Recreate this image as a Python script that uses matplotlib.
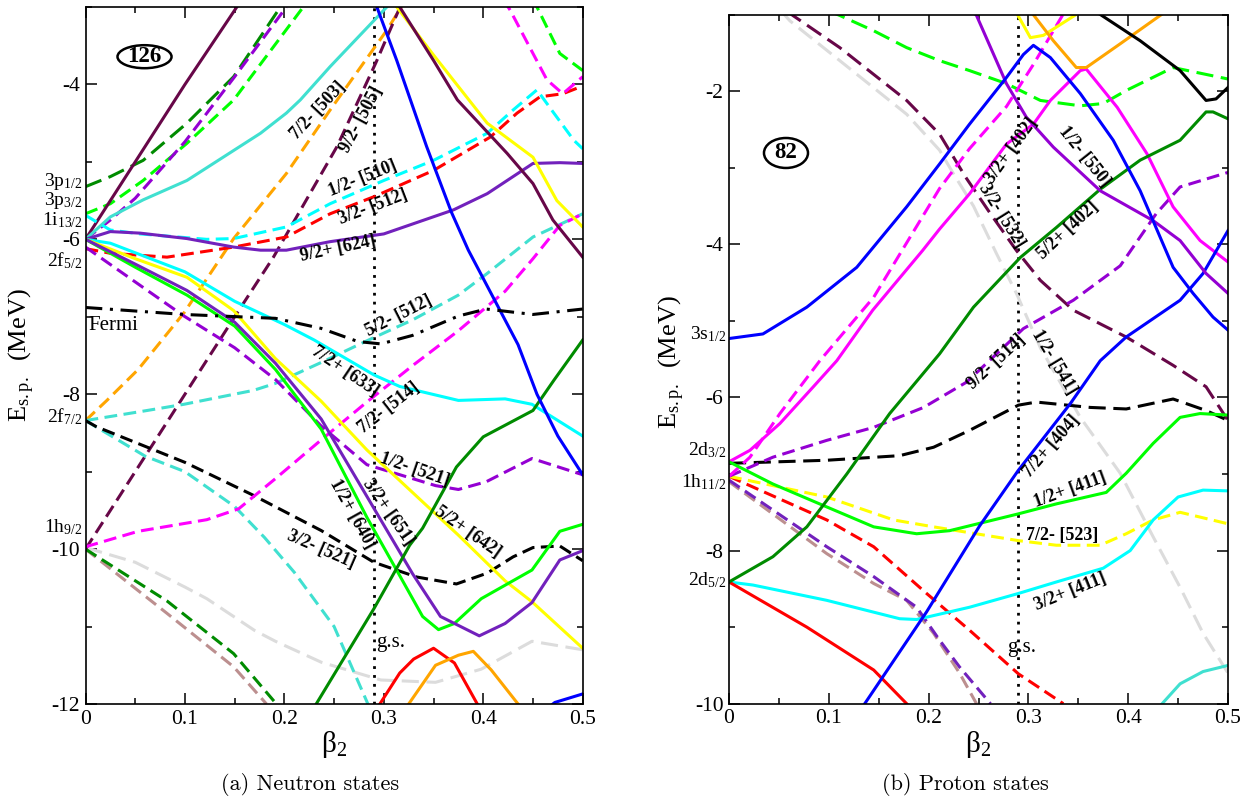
import matplotlib
matplotlib.use("Agg")
import matplotlib.pyplot as plt
from matplotlib.patches import Ellipse
from matplotlib.ticker import MultipleLocator, FuncFormatter

plt.rcParams.update({
    "font.family": ["Liberation Serif", "DejaVu Serif"],
    "mathtext.fontset": "custom",
    "mathtext.rm": "Liberation Serif",
    "mathtext.it": "Liberation Serif:italic",
    "mathtext.bf": "Liberation Serif:bold",
    "axes.unicode_minus": False,
})

# ---------------------------------------------------------------- neutron levels
# each level: (beta_2 values, single-particle energies in MeV)
n_i13_up = ([0.0, 0.05, 0.10, 0.16], [-6.0, -5.0, -4.0, -2.85])
n_p12 = ([0.0, 0.025, 0.058, 0.102, 0.149, 0.196], [-5.32, -5.19, -4.98, -4.5, -3.9, -3.0])
n_p32 = ([0.0, 0.025, 0.058, 0.102, 0.149, 0.219], [-5.67, -5.54, -5.24, -4.76, -4.2, -3.0])
n_f52_up = ([0.0, 0.025, 0.05, 0.10, 0.15, 0.202], [-6.0, -5.75, -5.47, -4.74, -3.9, -3.0])
n_i13_b = ([0.0, 0.025, 0.058, 0.102, 0.176, 0.202, 0.216, 0.246, 0.303],
           [-6.0, -5.71, -5.49, -5.24, -4.63, -4.37, -4.2, -3.77, -3.0])
n_510 = ([0.0, 0.025, 0.055, 0.122, 0.149, 0.202, 0.246, 0.30, 0.35, 0.404, 0.43, 0.454, 0.471, 0.491, 0.5],
         [-5.69, -5.88, -5.93, -6.0, -5.99, -5.84, -5.54, -5.24, -4.98, -4.63, -4.33, -4.07, -4.37, -4.72, -4.83])
n_512_3 = ([0.0, 0.025, 0.082, 0.149, 0.202, 0.246, 0.29, 0.35, 0.407, 0.434, 0.457, 0.48, 0.5],
           [-6.12, -6.18, -6.23, -6.1, -5.97, -5.67, -5.45, -5.11, -4.68, -4.37, -4.16, -4.12, -4.02])
n_624 = ([0.0, 0.025, 0.055, 0.102, 0.149, 0.176, 0.202, 0.246, 0.30, 0.37, 0.404, 0.45, 0.477, 0.5],
         [-6.0, -5.9, -5.92, -5.99, -6.1, -6.14, -6.14, -6.03, -5.93, -5.62, -5.41, -5.02, -5.01, -5.02])
n_633 = ([0.0, 0.025, 0.10, 0.15, 0.20, 0.23, 0.29, 0.316, 0.375, 0.422, 0.449, 0.5],
         [-6.0, -6.05, -6.42, -6.8, -7.1, -7.3, -7.75, -7.9, -8.08, -8.06, -8.13, -8.54])
n_642 = ([0.0, 0.05, 0.102, 0.149, 0.191, 0.237, 0.283, 0.329, 0.375, 0.422, 0.449, 0.5],
         [-6.0, -6.25, -6.49, -6.92, -7.54, -8.09, -8.72, -9.27, -9.82, -10.41, -10.68, -11.28])
n_640 = ([0.0, 0.05, 0.102, 0.15, 0.191, 0.237, 0.283, 0.315, 0.339, 0.355, 0.371, 0.398, 0.449, 0.477, 0.5],
         [-6.0, -6.36, -6.72, -7.12, -7.68, -8.45, -9.59, -10.32, -10.87, -11.04, -10.96, -10.64, -10.27, -9.77, -9.68])
n_651 = ([0.0, 0.05, 0.102, 0.15, 0.191, 0.237, 0.283, 0.329, 0.357, 0.396, 0.422, 0.449, 0.477, 0.5],
         [-6.0, -6.32, -6.66, -7.07, -7.6, -8.32, -9.32, -10.32, -10.87, -11.12, -10.96, -10.69, -10.14, -10.02])
n_521_1 = ([0.0, 0.05, 0.099, 0.15, 0.191, 0.237, 0.283, 0.306, 0.352, 0.375, 0.403, 0.449, 0.5],
           [-6.1, -6.55, -6.99, -7.4, -7.81, -8.41, -8.91, -9.0, -9.18, -9.23, -9.13, -8.83, -9.04])
n_fermi = ([0.0, 0.099, 0.191, 0.237, 0.274, 0.297, 0.329, 0.375, 0.403, 0.45, 0.5],
           [-6.88, -6.97, -7.02, -7.15, -7.32, -7.35, -7.24, -6.99, -6.9, -6.97, -6.9])
n_503 = ([0.0, 0.0215, 0.053, 0.099, 0.149, 0.202, 0.246, 0.303, 0.32],
         [-8.34, -8.08, -7.68, -6.95, -5.99, -5.15, -4.33, -3.3, -2.95])
n_505 = ([0.0, 0.05, 0.10, 0.15, 0.189, 0.253, 0.292, 0.318],
         [-10.0, -9.0, -8.0, -7.0, -6.23, -4.8, -3.72, -2.95])
n_512_5 = ([0.0, 0.062, 0.099, 0.169, 0.191, 0.237, 0.283, 0.329, 0.375, 0.404, 0.45, 0.5],
           [-8.34, -8.21, -8.13, -7.95, -7.86, -7.59, -7.31, -7.04, -6.72, -6.44, -5.97, -5.67])
n_f72_down = ([0.0, 0.06, 0.10, 0.15, 0.18, 0.21, 0.25, 0.284],
              [-8.34, -8.8, -9.0, -9.45, -9.85, -10.3, -11.0, -12.0])
n_521_3 = ([0.0, 0.011, 0.10, 0.168, 0.237, 0.29, 0.333, 0.373, 0.404, 0.43, 0.45, 0.477, 0.5],
           [-8.34, -8.42, -8.88, -9.3, -9.76, -10.17, -10.36, -10.45, -10.31, -10.1, -9.98, -9.96, -10.15])
n_514 = ([0.0, 0.053, 0.122, 0.154, 0.191, 0.237, 0.283, 0.329, 0.375, 0.422, 0.45, 0.477, 0.5],
         [-9.97, -9.77, -9.62, -9.48, -9.09, -8.59, -8.1, -7.63, -7.18, -6.67, -6.25, -5.82, -5.67])
n_magenta_top = ([0.42, 0.427, 0.45, 0.464, 0.48, 0.5], [-2.9, -3.04, -3.6, -3.94, -4.12, -3.9])
n_green_top = ([0.449, 0.454, 0.477, 0.5], [-2.9, -3.0, -3.6, -3.82])
n_grey = ([0.0, 0.05, 0.10, 0.122, 0.17, 0.191, 0.237, 0.297, 0.352, 0.398, 0.449, 0.5],
          [-9.98, -10.17, -10.49, -10.64, -11.05, -11.19, -11.46, -11.69, -11.72, -11.55, -11.19, -11.3])
n_h92_green = ([0.0, 0.082, 0.149, 0.192], [-10.0, -10.67, -11.35, -12.0])
n_h92_brown = ([0.0, 0.082, 0.149, 0.182], [-10.0, -10.83, -11.52, -12.0])
n_green4 = ([0.232, 0.29, 0.326, 0.339, 0.373, 0.40, 0.45, 0.471, 0.5],
            [-12.0, -10.77, -9.95, -9.73, -8.94, -8.55, -8.21, -7.82, -7.3])
n_red_low = ([0.296, 0.316, 0.33, 0.35, 0.371, 0.394], [-12.0, -11.6, -11.42, -11.28, -11.47, -12.0])
n_orange_low = ([0.325, 0.352, 0.375, 0.39, 0.408, 0.435], [-12.0, -11.5, -11.37, -11.32, -11.56, -12.0])
n_blue_low = ([0.465, 0.472, 0.5], [-12.05, -11.98, -11.87])
n_blue = ([0.293, 0.313, 0.343, 0.368, 0.385, 0.435, 0.454, 0.475, 0.5],
          [-3.0, -3.69, -4.8, -5.65, -6.14, -7.36, -8.0, -8.54, -9.04])
n_maroon_down = ([0.31, 0.316, 0.35, 0.374, 0.424, 0.45, 0.47, 0.5],
                 [-2.88, -3.0, -3.69, -4.2, -4.89, -5.28, -5.75, -6.23])
n_yellow_down = ([0.308, 0.313, 0.35, 0.404, 0.45, 0.474, 0.5],
                 [-2.9, -3.0, -3.62, -4.5, -4.94, -5.5, -5.84])

# ----------------------------------------------------------------- proton levels
p_s12 = ([0.0, 0.034, 0.078, 0.128, 0.178, 0.211, 0.241, 0.278, 0.295, 0.305, 0.322, 0.352, 0.385, 0.412, 0.445, 0.465, 0.485, 0.5],
         [-5.23, -5.17, -4.82, -4.3, -3.51, -2.95, -2.43, -1.82, -1.52, -1.40, -1.56, -2.03, -2.64, -3.30, -4.30, -4.64, -4.95, -5.12])
p_d32_up = ([0.0, 0.021, 0.051, 0.0845, 0.108, 0.144, 0.194, 0.211, 0.241, 0.278, 0.305, 0.322, 0.352, 0.358, 0.389, 0.419, 0.445, 0.472, 0.5],
            [-6.84, -6.69, -6.34, -5.86, -5.52, -4.86, -4.08, -3.8, -3.34, -2.69, -2.43, -2.12, -1.73, -1.71, -2.21, -2.82, -3.51, -3.95, -4.23])
p_402_3 = ([0.0, 0.021, 0.051, 0.091, 0.145, 0.211, 0.241, 0.278, 0.305, 0.335],
           [-7.03, -6.78, -6.21, -5.52, -4.69, -3.27, -2.75, -2.2, -1.65, -0.99])
p_514 = ([0.0, 0.044, 0.098, 0.145, 0.195, 0.238, 0.295, 0.345, 0.392, 0.428, 0.452, 0.5],
         [-7.03, -6.78, -6.56, -6.39, -6.13, -5.8, -5.1, -4.73, -4.28, -3.6, -3.25, -3.06])
p_black = ([0.0, 0.098, 0.171, 0.205, 0.241, 0.29, 0.308, 0.362, 0.398, 0.445, 0.478, 0.5],
           [-6.86, -6.82, -6.76, -6.65, -6.43, -6.1, -6.06, -6.13, -6.15, -6.02, -6.17, -6.3])
p_411_1 = ([0.0, 0.044, 0.098, 0.145, 0.188, 0.221, 0.29, 0.328, 0.378, 0.398, 0.425, 0.452, 0.472, 0.5],
           [-6.84, -7.13, -7.43, -7.69, -7.78, -7.74, -7.52, -7.39, -7.24, -6.99, -6.6, -6.26, -6.21, -6.23])
p_523 = ([0.0, 0.098, 0.165, 0.205, 0.29, 0.328, 0.372, 0.398, 0.425, 0.452, 0.5],
         [-7.03, -7.3, -7.6, -7.69, -7.87, -7.93, -7.93, -7.78, -7.6, -7.5, -7.65])
p_red_dash = ([0.0, 0.098, 0.145, 0.198, 0.241, 0.29, 0.335], [-7.03, -7.6, -7.95, -8.56, -9.04, -9.61, -10.0])
p_indigo_dash = ([0.0, 0.098, 0.145, 0.188, 0.211, 0.231, 0.262], [-7.08, -7.95, -8.34, -8.74, -9.17, -9.52, -10.0])
p_brown_dash = ([0.0, 0.098, 0.145, 0.178, 0.205, 0.231, 0.248], [-7.1, -8.04, -8.43, -8.65, -9.08, -9.6, -10.0])
p_402_5 = ([0.0, 0.044, 0.078, 0.118, 0.161, 0.211, 0.245, 0.292, 0.328, 0.372, 0.412, 0.452, 0.478, 0.485, 0.5],
           [-8.41, -8.08, -7.69, -7.0, -6.21, -5.43, -4.82, -4.17, -3.78, -3.28, -2.9, -2.64, -2.27, -2.27, -2.36])
p_411_3 = ([0.0, 0.024, 0.098, 0.171, 0.188, 0.198, 0.241, 0.29, 0.328, 0.375, 0.402, 0.425, 0.45, 0.475, 0.5],
           [-8.41, -8.45, -8.65, -8.89, -8.9, -8.87, -8.74, -8.56, -8.41, -8.23, -8.0, -7.6, -7.3, -7.21, -7.22])
p_red_solid = ([0.0, 0.078, 0.145, 0.178], [-8.41, -9.0, -9.56, -10.0])
p_404 = ([0.136, 0.198, 0.251, 0.29, 0.342, 0.372, 0.398, 0.452, 0.475, 0.5],
         [-10.0, -8.8, -7.68, -6.95, -6.08, -5.52, -5.21, -4.73, -4.38, -3.82])
p_550 = ([0.24, 0.248, 0.278, 0.298, 0.325, 0.372, 0.425, 0.452, 0.478, 0.5],
         [-0.9, -1.01, -1.9, -2.34, -2.73, -3.3, -3.69, -3.95, -4.38, -4.64])
p_green_dash = ([0.10, 0.111, 0.145, 0.178, 0.211, 0.241, 0.278, 0.312, 0.352, 0.375, 0.398, 0.445, 0.5],
                [-0.95, -1.01, -1.21, -1.43, -1.6, -1.73, -1.9, -2.12, -2.19, -2.16, -1.99, -1.69, -1.84])
p_532 = ([0.058, 0.064, 0.111, 0.178, 0.211, 0.237, 0.262, 0.288, 0.312, 0.345, 0.398, 0.445, 0.478, 0.5],
         [-0.95, -1.01, -1.43, -2.12, -2.56, -3.12, -3.6, -4.08, -4.47, -4.86, -5.21, -5.58, -5.86, -6.3])
p_541 = ([0.052, 0.061, 0.111, 0.178, 0.211, 0.225, 0.245, 0.268, 0.288, 0.312, 0.352, 0.392, 0.425, 0.452, 0.475, 0.5],
         [-0.95, -1.08, -1.6, -2.3, -2.77, -3.08, -3.5, -4.12, -4.64, -5.35, -6.26, -6.99, -7.82, -8.48, -9.08, -9.6])
p_turq = ([0.434, 0.452, 0.475, 0.5], [-10.0, -9.74, -9.58, -9.5])
p_yellow_top = ([0.287, 0.302, 0.315, 0.35], [-0.95, -1.3, -1.27, -0.98])
p_orange_top = ([0.302, 0.325, 0.348, 0.358, 0.392, 0.432, 0.44], [-0.95, -1.34, -1.69, -1.69, -1.38, -1.01, -0.94])
p_black_top = ([0.37, 0.412, 0.452, 0.478, 0.488, 0.5], [-0.98, -1.34, -1.73, -2.12, -2.1, -1.95])

# spherical orbitals at beta_2 = 0
n_shell_names = [r"3p$_{1/2}$", r"3p$_{3/2}$", r"1i$_{13/2}$", r"2f$_{5/2}$", r"2f$_{7/2}$", r"1h$_{9/2}$"]
n_shell_E = [-5.25, -5.5, -5.75, -6.27, -8.29, -9.72]
p_shell_names = [r"3s$_{1/2}$", r"2d$_{3/2}$", r"1h$_{11/2}$", r"2d$_{5/2}$"]
p_shell_E = [-5.17, -6.69, -7.1, -8.39]

# Nilsson labels
n_tags = ["7/2- [503]", "9/2- [505]", "1/2- [510]", "3/2- [512]", "9/2+ [624]", "5/2- [512]",
          "7/2+ [633]", "7/2- [514]", "1/2- [521]", "3/2+ [651]", "1/2+ [640]", "5/2+ [642]", "3/2- [521]"]
p_tags = ["3/2+ [402]", "3/2- [532]", "1/2- [550]", "5/2+ [402]", "9/2- [514]", "1/2- [541]",
          "7/2+ [404]", "1/2+ [411]", "7/2- [523]", "3/2+ [411]"]

gs_beta = 0.29

# --------------------------------------------------------------------- styling
MAROON = "#670748"
INDIGO = "#7221bc"
VIOLET = "#9400d3"
TURQ = "#40e0d0"
GREEN4 = "#008b00"
LIME = "#00ff00"
CYAN = "#00ffff"
MAGENTA = "#ff00ff"
YELLOW = "#ffff00"
ORANGE = "#ffa500"
BROWN = "#bc8f8f"
GREY = "#dcdcdc"

LW = 2.2
SOLID = "-"
DASH = (0, (4.2, 2.1))
LDASH = (0, (5.6, 2.5))
DASHDOT = (0, (5.5, 2.5, 1.0, 2.5))

n_draw = [
    (n_grey, GREY, LDASH), (n_h92_brown, BROWN, DASH), (n_h92_green, GREEN4, DASH),
    (n_p12, GREEN4, LDASH), (n_p32, LIME, DASH), (n_f52_up, VIOLET, DASH),
    (n_i13_up, MAROON, SOLID), (n_i13_b, TURQ, SOLID),
    (n_503, ORANGE, DASH), (n_505, MAROON, DASH),
    (n_510, CYAN, DASH), (n_512_3, "red", DASH), (n_624, INDIGO, SOLID),
    (n_512_5, TURQ, DASH), (n_f72_down, TURQ, DASH), (n_521_3, "black", DASH),
    (n_514, MAGENTA, DASH), (n_magenta_top, MAGENTA, DASH), (n_green_top, LIME, DASH),
    (n_633, CYAN, SOLID), (n_521_1, VIOLET, DASH), (n_642, YELLOW, SOLID),
    (n_640, LIME, SOLID), (n_651, INDIGO, SOLID),
    (n_green4, GREEN4, SOLID), (n_red_low, "red", SOLID), (n_orange_low, ORANGE, SOLID),
    (n_blue_low, "blue", SOLID), (n_yellow_down, YELLOW, SOLID), (n_maroon_down, MAROON, SOLID),
    (n_blue, "blue", SOLID), (n_fermi, "black", DASHDOT),
]
p_draw = [
    (p_541, GREY, LDASH), (p_532, MAROON, LDASH), (p_green_dash, LIME, LDASH),
    (p_brown_dash, BROWN, DASH), (p_indigo_dash, INDIGO, DASH), (p_red_dash, "red", DASH),
    (p_523, YELLOW, DASH), (p_black, "black", LDASH), (p_514, VIOLET, DASH),
    (p_402_3, MAGENTA, DASH), (p_d32_up, MAGENTA, SOLID), (p_411_1, LIME, SOLID),
    (p_411_3, CYAN, SOLID), (p_red_solid, "red", SOLID), (p_402_5, GREEN4, SOLID),
    (p_404, "blue", SOLID), (p_550, VIOLET, SOLID), (p_s12, "blue", SOLID),
    (p_turq, TURQ, SOLID), (p_yellow_top, YELLOW, SOLID), (p_orange_top, ORANGE, SOLID),
    (p_black_top, "black", SOLID),
]

# label placement (beta, E, rotation in degrees)
n_tag_place = [(0.234, -4.33, 47), (0.277, -4.45, 62), (0.279, -5.21, 22), (0.289, -5.58, 21),
               (0.254, -6.12, 12), (0.315, -6.99, 27), (0.261, -7.71, -34), (0.305, -8.17, 38),
               (0.331, -8.98, -19), (0.304, -9.52, -55), (0.268, -9.54, -61), (0.384, -9.78, -35),
               (0.237, -10.01, -23.5)]
p_tag_place = [(0.283, -2.77, 54), (0.273, -3.62, -58), (0.356, -2.86, -51.5), (0.340, -3.82, 43),
               (0.268, -5.54, 43), (0.326, -5.54, -59), (0.323, -6.64, 49), (0.342, -7.21, 20),
               (0.334, -7.80, 0), (0.342, -8.54, 22)]

W, H = 1252, 801
fig = plt.figure(figsize=(W / 100, H / 100), dpi=100)


def axes_px(left, top, right, bottom):
    return fig.add_axes([left / W, 1 - bottom / H, (right - left) / W, (bottom - top) / H])


def style_axes(ax, ylo, yhi):
    ax.set_xlim(0, 0.5)
    ax.set_ylim(ylo, yhi)
    ax.xaxis.set_major_locator(MultipleLocator(0.1))
    ax.xaxis.set_minor_locator(MultipleLocator(0.05))
    ax.yaxis.set_major_locator(MultipleLocator(2))
    ax.yaxis.set_minor_locator(MultipleLocator(1))
    ax.xaxis.set_major_formatter(FuncFormatter(lambda v, _: "0" if abs(v) < 1e-9 else f"{v:.1f}"))
    ax.yaxis.set_major_formatter(FuncFormatter(lambda v, _: f"{v:.0f}"))
    ax.tick_params(which="both", direction="in", top=True, right=True, width=1.1, color="black")
    ax.tick_params(which="major", length=8, labelsize=15.5, pad=4)
    ax.tick_params(which="minor", length=4)
    for s in ax.spines.values():
        s.set_linewidth(1.2)
    ax.axvline(gs_beta, color="black", lw=2.0, ls=(0, (1, 2.2)), zorder=1)


def draw_levels(ax, items):
    for (b, e), color, ls in items:
        ax.plot(b, e, color=color, lw=LW, ls=ls, solid_joinstyle="round", zorder=2)


def draw_tags(ax, texts, places):
    for t, (b, e, rot) in zip(texts, places):
        ax.text(b, e, t, rotation=rot, rotation_mode="anchor", ha="center", va="center",
                fontsize=13, fontweight="bold", zorder=5)


def draw_shells(ax, names, energies):
    tr = ax.get_yaxis_transform()
    for name, e in zip(names, energies):
        ax.text(-0.006, e, name, transform=tr, ha="right", va="center", fontsize=14)


ax_n = axes_px(85.5, 7, 582.7, 704)
ax_p = axes_px(729, 14.7, 1228, 703.7)

style_axes(ax_n, -12, -3)
style_axes(ax_p, -10, -1)

draw_levels(ax_n, n_draw)
draw_levels(ax_p, p_draw)
draw_tags(ax_n, n_tags, n_tag_place)
draw_tags(ax_p, p_tags, p_tag_place)
draw_shells(ax_n, n_shell_names, n_shell_E)
draw_shells(ax_p, p_shell_names, p_shell_E)

ax_n.text(0.003, -7.11, "Fermi", ha="left", va="center", fontsize=15, zorder=5)
ax_n.text(0.307, -11.21, "g.s.", ha="center", va="center", fontsize=15, zorder=5)
ax_p.text(0.293, -9.26, "g.s.", ha="center", va="center", fontsize=15, zorder=5)

# magic-number badges
for ax, (cx, cy, w, h), txt in [(ax_n, (0.1187, 0.9287, 0.1087, 0.033), "126"),
                                (ax_p, (0.1142, 0.7993, 0.0882, 0.0435), "82")]:
    ax.add_patch(Ellipse((cx, cy), w, h, transform=ax.transAxes, fc="white", ec="black",
                         lw=1.8, zorder=6))
    ax.text(cx, cy, txt, transform=ax.transAxes, ha="center", va="center",
            fontsize=16.5, fontweight="bold", zorder=7)


# axis titles and captions
def ftext(x, y, s, **kw):
    fig.text(x / W, 1 - y / H, s, **kw)


ylab = r"E$_{\mathregular{s.p.}}$  (MeV)"
xlab = r"$\mathregular{\beta_2}$"
ftext(22, 355, ylab, rotation=90, ha="center", va="center", fontsize=19)
ftext(672, 362, ylab, rotation=90, ha="center", va="center", fontsize=19)
ftext(334, 744, xlab, ha="center", va="center", fontsize=21)
ftext(978, 744, xlab, ha="center", va="center", fontsize=21)
ftext(310, 784, "(a) Neutron states", ha="center", va="center", fontsize=16, family=["cmr10", "DejaVu Serif"])
ftext(965, 784, "(b) Proton states", ha="center", va="center", fontsize=16, family=["cmr10", "DejaVu Serif"])

fig.savefig("out.png", dpi=100)
